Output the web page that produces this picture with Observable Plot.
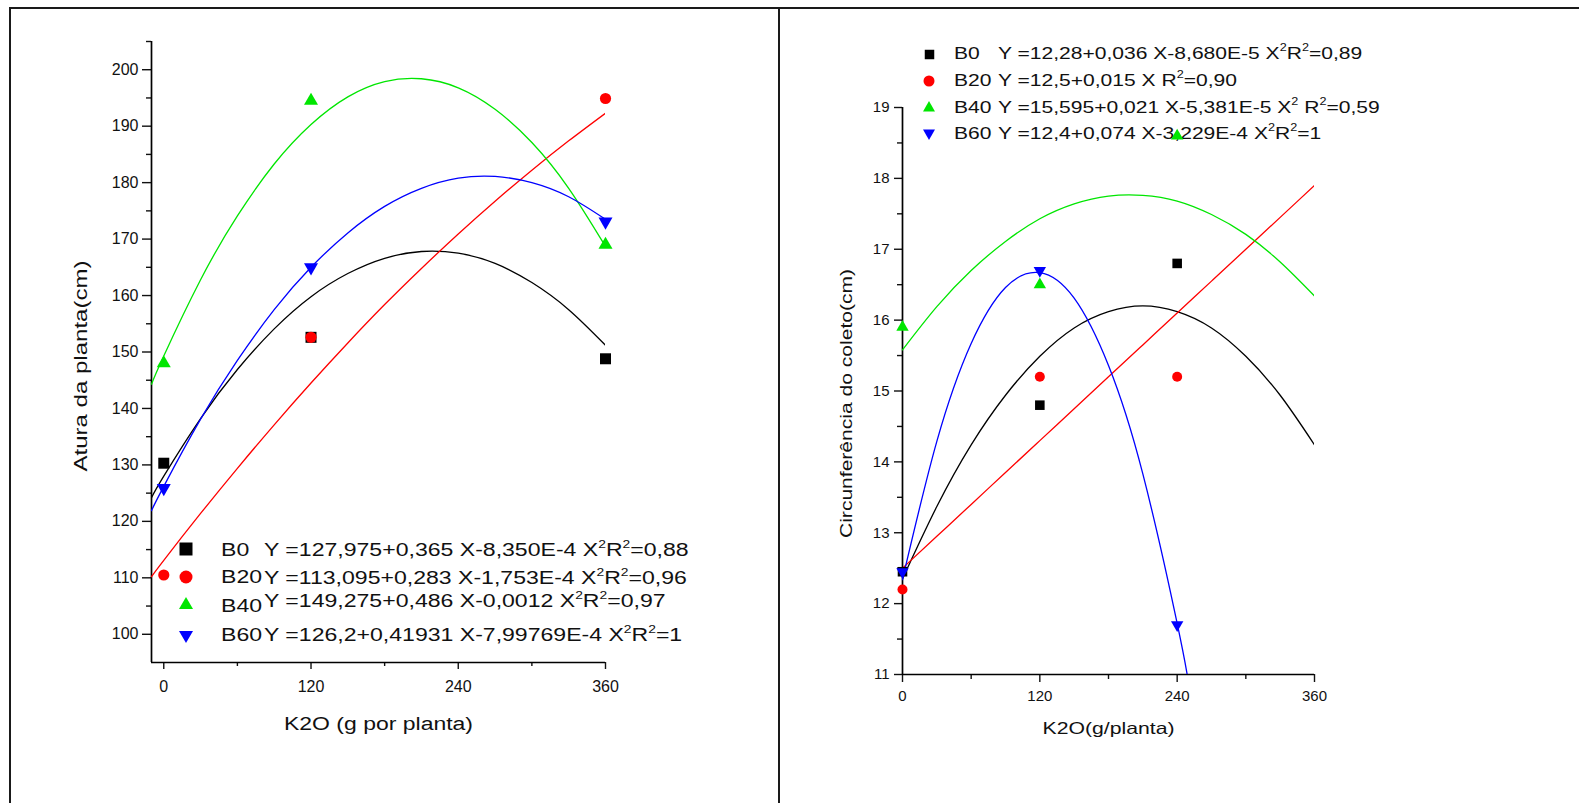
<!DOCTYPE html>
<html><head><meta charset="utf-8">
<script src="https://cdn.jsdelivr.net/npm/d3@7"></script>
<script src="https://cdn.jsdelivr.net/npm/@observablehq/plot@0.6"></script>
<style>
html,body{margin:0;padding:0;background:#fff;}
#root{position:relative;width:1579px;height:803px;overflow:hidden;font-family:"Liberation Sans",Arial,sans-serif;}
.panel{position:absolute;top:0;}
.bline{position:absolute;background:#1a1a1a;z-index:5;}
.leg{position:absolute;white-space:nowrap;line-height:1;color:#111;transform-origin:0 50%;}
.leg sup{font-size:0.6em;position:relative;top:-0.1em;vertical-align:super;line-height:0;}
.mk{position:absolute;overflow:visible;}
</style></head><body><div id="root"></div><script>
// ---------- data ----------
const series = ["B0", "B20", "B40", "B60"];
const seriesColors = ["#000000", "#ff0000", "#00e600", "#0000ff"];
const seriesSymbols = ["square", "circle", "triangle", "triangle"];
const seriesRotate = [0, 0, 0, 180];

// left panel: Altura da planta
const doseLeft = [0, 120, 360];
const alturaB0 = [130.3, 152.6, 148.8];
const alturaB20 = [110.5, 152.6, 194.9];
const alturaB40 = [148.0, 194.5, 169.0];
const alturaB60 = [125.9, 165.0, 173.1];

const fitXLeft = [-10, 0, 30, 60, 90, 120, 150, 180, 210, 240, 270, 300, 330, 360];
const fitAlturaB0 = [124.2, 128.0, 138.2, 146.9, 154.1, 159.8, 163.9, 166.6, 167.8, 167.5, 165.7, 162.3, 157.5, 151.2];
const fitAlturaB20 = [110.2, 113.1, 121.4, 129.4, 137.1, 144.5, 151.6, 158.4, 164.8, 170.9, 176.7, 182.2, 187.4, 192.3];
const fitAlturaB40 = [144.3, 149.3, 162.8, 174.1, 183.3, 190.3, 195.2, 197.9, 198.4, 196.8, 193.0, 187.1, 179.0, 168.7];
const fitAlturaB60 = [121.9, 126.2, 138.1, 148.5, 157.5, 165.0, 171.1, 175.8, 179.0, 180.8, 181.1, 180.0, 177.5, 173.5];

const leftEquations = [
  "Y =127,975+0,365 X-8,350E-4 X²R²=0,88",
  "Y =113,095+0,283 X-1,753E-4 X²R²=0,96",
  "Y =149,275+0,486 X-0,0012 X²R²=0,97",
  "Y =126,2+0,41931 X-7,99769E-4 X²R²=1"
];

// right panel: Circunferência do coleto
const doseRight = [0, 120, 240];
const circB0 = [12.45, 14.8, 16.8];
const circB20 = [12.2, 15.2, 15.2];
const circB40 = [15.9, 16.5, 18.6];
const circB60 = [12.45, 16.7, 11.7];

const fitXRight = [0, 30, 60, 90, 120, 150, 180, 210, 240, 270, 300, 330, 360];
const fitCircB0 = [12.35, 13.37, 14.24, 14.94, 15.49, 15.89, 16.12, 16.2, 16.12, 15.89, 15.49, 14.94, 14.24];
const fitCircB20 = [12.5, 12.95, 13.4, 13.85, 14.3, 14.75, 15.2, 15.65, 16.1, 16.55, 17.0, 17.45, 17.9];
const fitCircB40 = [15.58, 16.19, 16.70, 17.11, 17.43, 17.64, 17.75, 17.76, 17.68, 17.49, 17.21, 16.82, 16.34];
const fitXRightB60 = [0, 30, 60, 90, 120, 150, 180, 210, 240, 250];
const fitCircB60 = [12.34, 14.29, 15.67, 16.46, 16.67, 16.31, 15.36, 13.83, 11.72, 10.88];

const rightEquations = [
  "Y =12,28+0,036 X-8,680E-5 X²R²=0,89",
  "Y =12,5+0,015 X R²=0,90",
  "Y =15,595+0,021 X-5,381E-5 X² R²=0,59",
  "Y =12,4+0,074 X-3,229E-4 X²R²=1"
];

// ticks
const xTicks = [0, 120, 240, 360];
const xMinor = [60, 180, 300];
const yTicksLeft = [100, 110, 120, 130, 140, 150, 160, 170, 180, 190, 200];
const yMinorLeft = [105, 115, 125, 135, 145, 155, 165, 175, 185, 195, 205];
const yTicksRight = [11, 12, 13, 14, 15, 16, 17, 18, 19];
const yMinorRight = [11.5, 12.5, 13.5, 14.5, 15.5, 16.5, 17.5, 18.5];

const titlesLeft = ["K2O (g por planta)", "Atura da planta(cm)"];
const titlesRight = ["K2O(g/planta)", "Circunferência do coleto(cm)"];

// ---------- tables ----------
const ptsLeftVals = [alturaB0, alturaB20, alturaB40, alturaB60];
const fitLeftVals = [fitAlturaB0, fitAlturaB20, fitAlturaB40, fitAlturaB60];
const ptsRightVals = [circB0, circB20, circB40, circB60];
const fitRightVals = [fitCircB0, fitCircB20, fitCircB40, fitCircB60];
const fitRightX = [fitXRight, fitXRight, fitXRight, fitXRightB60];

const pts = (xs, ys) => xs.map((x, j) => ({dose: x, value: ys[j]}));

const FONT = "'Liberation Sans', Arial, sans-serif";
const root = document.getElementById("root");
const intFmt = d => String(d);

function seriesMarks(ptsVals, ptsX, fitVals, fitXs, rs) {
  const lines = series.map((s, i) => Plot.line(pts(fitXs[i], fitVals[i]), {
    x: "dose", y: "value", stroke: seriesColors[i], strokeWidth: 1.3, curve: "natural", clip: true
  }));
  const dots = series.map((s, i) => Plot.dot(pts(ptsX, ptsVals[i]), {
    x: "dose", y: "value", symbol: seriesSymbols[i], fill: seriesColors[i], stroke: "none",
    r: rs[i], rotate: seriesRotate[i]
  }));
  return [...lines, ...dots];
}

// ---------- left plot ----------
const leftPlot = Plot.plot({
  width: 779, height: 803,
  marginLeft: 151, marginRight: 174, marginTop: 41, marginBottom: 141,
  style: {background: "transparent", fontFamily: FONT, overflow: "visible", color: "#111"},
  x: {domain: [-10, 360], axis: null, label: null},
  y: {domain: [95, 205], axis: null, label: null},
  marks: [
    Plot.axisY(yMinorLeft, {anchor: "left", tickSize: 5, tickFormat: () => "", strokeWidth: 1.4, label: null}),
    Plot.axisY(yTicksLeft, {anchor: "left", tickSize: 9, tickPadding: 4, fontSize: 16, strokeWidth: 1.4, tickFormat: intFmt, label: null}),
    Plot.axisX(xMinor, {anchor: "bottom", tickSize: 4, tickFormat: () => "", strokeWidth: 1.4, label: null}),
    Plot.axisX(xTicks, {anchor: "bottom", tickSize: 7, tickPadding: 11, fontSize: 16, strokeWidth: 1.4, tickFormat: intFmt, label: null}),
    Plot.ruleX([-10], {stroke: "#000", strokeWidth: 1.7}),
    Plot.ruleY([95], {stroke: "#000", strokeWidth: 1.7}),
    ...seriesMarks(ptsLeftVals, doseLeft, fitLeftVals, [fitXLeft, fitXLeft, fitXLeft, fitXLeft], [6.2, 5.6, 5.2, 5.2]),
    Plot.text([titlesLeft[0]], {frameAnchor: "bottom", textAnchor: "middle", lineAnchor: "middle", dy: 62, fontSize: 18, fill: "#111"}),
    Plot.text([titlesLeft[1]], {frameAnchor: "left", textAnchor: "middle", lineAnchor: "middle", dx: -70.5, dy: 14, rotate: -90, fontSize: 18, fill: "#111"})
  ]
});

// ---------- right plot ----------
const rightPlot = Plot.plot({
  width: 800, height: 803,
  marginLeft: 123, marginRight: 265, marginTop: 107, marginBottom: 129,
  style: {background: "transparent", fontFamily: FONT, overflow: "visible", color: "#111"},
  x: {domain: [0, 360], axis: null, label: null},
  y: {domain: [11, 19], axis: null, label: null},
  marks: [
    Plot.axisY(yMinorRight, {anchor: "left", tickSize: 5, tickFormat: () => "", strokeWidth: 1.4, label: null}),
    Plot.axisY(yTicksRight, {anchor: "left", tickSize: 8, tickPadding: 5, fontSize: 15, strokeWidth: 1.4, tickFormat: intFmt, label: null}),
    Plot.axisX(xMinor, {anchor: "bottom", tickSize: 5, tickFormat: () => "", strokeWidth: 1.4, label: null}),
    Plot.axisX(xTicks, {anchor: "bottom", tickSize: 8, tickPadding: 8, fontSize: 15, strokeWidth: 1.4, tickFormat: intFmt, label: null}),
    Plot.ruleX([0], {stroke: "#000", strokeWidth: 1.7}),
    Plot.ruleY([11], {stroke: "#000", strokeWidth: 1.7}),
    ...seriesMarks(ptsRightVals, doseRight, fitRightVals, fitRightX, [5.4, 5, 4.6, 4.6]),
    Plot.text([titlesRight[0]], {frameAnchor: "bottom", textAnchor: "middle", lineAnchor: "middle", dy: 54, fontSize: 16.5, fill: "#111"}),
    Plot.text([titlesRight[1]], {frameAnchor: "left", textAnchor: "middle", lineAnchor: "middle", dx: -55.7, dy: 12.5, rotate: -90, fontSize: 16.5, fill: "#111"})
  ]
});

// ---------- legends (HTML, under the plots) ----------
function addLegend(cfg) {
  const eqEls = [], labEls = [];
  series.forEach((s, i) => {
    const sz = cfg.markerSize[i];
    const type = seriesSymbols[i] === "square" ? d3.symbolSquare : seriesSymbols[i] === "circle" ? d3.symbolCircle : d3.symbolTriangle;
    const area = seriesSymbols[i] === "square" ? sz * sz : seriesSymbols[i] === "circle" ? Math.PI * sz * sz / 4 : Math.sqrt(3) / 4 * sz * sz;
    const svg = d3.create("svg").attr("class", "mk").attr("width", 2 * sz).attr("height", 2 * sz)
      .style("left", (cfg.markerX - sz) + "px").style("top", (cfg.markerY[i] - sz) + "px");
    svg.append("path").attr("d", d3.symbol(type, area)()).attr("fill", seriesColors[i])
      .attr("transform", `translate(${sz},${sz}) rotate(${seriesRotate[i]})`);
    root.appendChild(svg.node());
    const lab = document.createElement("div");
    lab.className = "leg"; lab.textContent = s;
    lab.style.left = cfg.labelX + "px"; lab.style.top = cfg.labelY[i] + "px"; lab.style.fontSize = cfg.fontSize + "px";
    root.appendChild(lab); labEls.push(lab);
    const eq = document.createElement("div");
    eq.className = "leg"; eq.innerHTML = cfg.equations[i].replace(/²/g, "<sup>2</sup>");
    eq.style.left = cfg.eqX + "px"; eq.style.top = cfg.eqY[i] + "px"; eq.style.fontSize = cfg.fontSize + "px";
    root.appendChild(eq); eqEls.push(eq);
  });
  const f = cfg.target / eqEls[0].offsetWidth;
  [...eqEls, ...labEls].forEach(el => { el.style.transform = `translateY(-50%) scaleX(${f})`; });
}

addLegend({
  equations: leftEquations, fontSize: 18, markerX: 186, markerY: [549, 577, 605, 635],
  markerSize: [13, 13, 14, 14], labelX: 221, labelY: [550, 577, 606, 635], eqX: 264, eqY: [550, 578, 601, 635], target: 424
});
addLegend({
  equations: rightEquations, fontSize: 17, markerX: 929, markerY: [54, 80.5, 108, 133],
  markerSize: [9.5, 11, 12, 12], labelX: 954, labelY: [53, 80, 107, 133], eqX: 998, eqY: [53, 80, 107, 133], target: 364
});

// ---------- place plots ----------
const lw = document.createElement("div"); lw.className = "panel"; lw.style.left = "0px"; lw.appendChild(leftPlot); root.appendChild(lw);
const rw = document.createElement("div"); rw.className = "panel"; rw.style.left = "779px"; rw.appendChild(rightPlot); root.appendChild(rw);

function fitTitle(svg, content, target) {
  svg.querySelectorAll("text").forEach(t => {
    if (t.textContent === content) {
      t.setAttribute("textLength", target);
      t.setAttribute("lengthAdjust", "spacingAndGlyphs");
    }
  });
}
fitTitle(leftPlot, titlesLeft[0], 189);
fitTitle(leftPlot, titlesLeft[1], 211);
fitTitle(rightPlot, titlesRight[0], 132);
fitTitle(rightPlot, titlesRight[1], 269);

// ---------- border lines ----------
[[10, 7, 1569, 2], [9, 7, 2, 796], [778, 7, 2, 796]].forEach(([l, t, w, h]) => {
  const d = document.createElement("div"); d.className = "bline";
  d.style.left = l + "px"; d.style.top = t + "px"; d.style.width = w + "px"; d.style.height = h + "px";
  root.appendChild(d);
});
</script></body></html>
